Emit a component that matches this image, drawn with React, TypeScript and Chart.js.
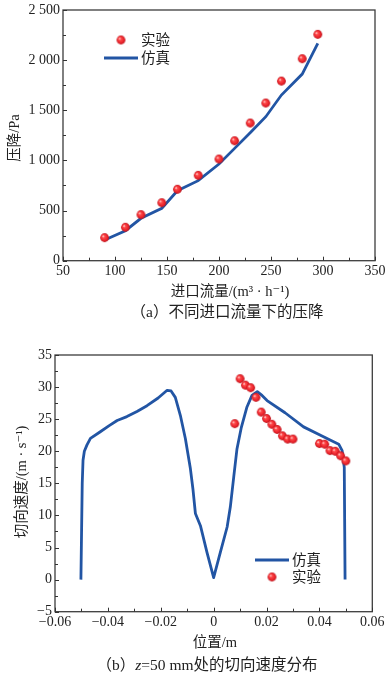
import React, { useEffect, useRef } from 'react';
import { Chart, registerables } from 'chart.js';

Chart.register(...registerables);

const FONT = "'Liberation Serif', 'Times New Roman', Tinos, 'DejaVu Serif', 'Noto Sans CJK SC', serif";
const BLUE = '#2255a4';
const TEXT = '#222222';

// ---- Chart (a): pressure drop vs inlet flow ----
const flowRates = [90, 110, 125, 145, 160, 180, 200, 215, 230, 245, 260, 280, 295];
const pressureExp = [230, 333, 459, 578, 712, 851, 1014, 1196, 1373, 1572, 1791, 2014, 2257];
const pressureSim = [206, 299, 423, 522, 698, 798, 964, 1120, 1276, 1436, 1652, 1861, 2167];
const pressureXTicks = [50, 100, 150, 200, 250, 300, 350];
const pressureYTicks = [0, 500, 1000, 1500, 2000, 2500];

// ---- Chart (b): tangential velocity at z=50 mm ----
const simPosition = [
  -0.0502, -0.0497, -0.0494, -0.0489, -0.0479, -0.0466, -0.043, -0.0395, -0.0365, -0.0328,
  -0.029, -0.0252, -0.021, -0.0176, -0.0161, -0.0145, -0.0126, -0.0107, -0.0088, -0.0078,
  -0.0069, -0.005, -0.0025, 0, 0.0025, 0.0051, 0.0063, 0.0076, 0.0088, 0.0104,
  0.0126, 0.0145, 0.0165, 0.0183, 0.0202, 0.027, 0.034, 0.0404, 0.0473, 0.0486,
  0.0494, 0.0497,
];
const simVelocity = [
  0, 15, 18.6, 20.0, 21.0, 22.0, 23.0, 24.0, 24.8, 25.4,
  26.2, 27.1, 28.3, 29.5, 29.4, 28.4, 25.6, 22.0, 17.3, 14.0,
  10.3, 8.4, 4.2, 0.3, 4.2, 8.2, 11.3, 16.0, 20.3, 23.6,
  26.9, 28.7, 29.3, 28.7, 27.9, 26.0, 23.8, 22.5, 21.1, 20.1,
  17.5, 0,
];
const expPosition = [0.008, 0.010, 0.012, 0.014, 0.016, 0.018, 0.020, 0.022, 0.024, 0.026, 0.028, 0.030, 0.040, 0.042, 0.044, 0.046, 0.048, 0.050];
const expVelocity = [24.3, 31.3, 30.3, 29.9, 28.4, 26.1, 25.1, 24.2, 23.4, 22.4, 21.9, 21.9, 21.2, 21.1, 20.1, 20.0, 19.3, 18.5];
const velXTicks = [-0.06, -0.04, -0.02, 0, 0.02, 0.04, 0.06];
const velYTicks = [-5, 0, 5, 10, 15, 20, 25, 30, 35];

const LABEL_EXP = '实验';
const LABEL_SIM = '仿真';

function makeSphere(r: number): HTMLCanvasElement {
  const s = Math.ceil(r * 2) + 2;
  const c = document.createElement('canvas');
  c.width = s;
  c.height = s;
  const g = c.getContext('2d')!;
  const cx = s / 2, cy = s / 2;
  const grad = g.createRadialGradient(cx - r * 0.35, cy - r * 0.35, r * 0.05, cx, cy, r);
  grad.addColorStop(0, '#ffe0e0');
  grad.addColorStop(0.28, '#ff4a4a');
  grad.addColorStop(0.75, '#e8222a');
  grad.addColorStop(1, '#b8121a');
  g.fillStyle = grad;
  g.beginPath();
  g.arc(cx, cy, r, 0, Math.PI * 2);
  g.fill();
  return c;
}

function minorsOf(t: number[]): number[] {
  const out: number[] = [];
  for (let i = 0; i < t.length - 1; i++) out.push((t[i] + t[i + 1]) / 2);
  return out;
}

type LegendItem = { kind: 'line' | 'dot'; x: number; y: number; text: string };
type Decor = {
  xTicks: number[];
  yTicks: number[];
  xTitle: string; xTitlePos: [number, number];
  yTitle: string; yTitlePos: [number, number];
  legend: LegendItem[];
  sphere: HTMLCanvasElement;
};

function makeDecorPlugin(d: Decor) {
  return {
    id: 'decor',
    beforeDatasetsDraw(chart: any) {
      const { ctx, chartArea: a, scales } = chart;
      const xs = scales.x, ys = scales.y;
      ctx.save();
      ctx.strokeStyle = '#3c3c3c';
      ctx.lineWidth = 1.3;
      ctx.strokeRect(a.left, a.top, a.right - a.left, a.bottom - a.top);
      ctx.lineWidth = 1;
      ctx.strokeStyle = '#333';
      ctx.beginPath();
      for (const v of d.xTicks) {
        const p = Math.round(xs.getPixelForValue(v)) + 0.5;
        ctx.moveTo(p, a.bottom); ctx.lineTo(p, a.bottom - 4);
      }
      for (const v of minorsOf(d.xTicks)) {
        const p = Math.round(xs.getPixelForValue(v)) + 0.5;
        ctx.moveTo(p, a.bottom); ctx.lineTo(p, a.bottom - 3);
      }
      for (const v of d.yTicks) {
        const p = Math.round(ys.getPixelForValue(v)) + 0.5;
        ctx.moveTo(a.left, p); ctx.lineTo(a.left + 4, p);
      }
      for (const v of minorsOf(d.yTicks)) {
        const p = Math.round(ys.getPixelForValue(v)) + 0.5;
        ctx.moveTo(a.left, p); ctx.lineTo(a.left + 3, p);
      }
      ctx.stroke();
      ctx.restore();
    },
    afterDraw(chart: any) {
      const { ctx } = chart;
      ctx.save();
      ctx.fillStyle = TEXT;
      ctx.font = `14.5px ${FONT}`;
      ctx.textAlign = 'center';
      ctx.textBaseline = 'middle';
      ctx.fillText(d.xTitle, d.xTitlePos[0], d.xTitlePos[1]);
      ctx.save();
      ctx.translate(d.yTitlePos[0], d.yTitlePos[1]);
      ctx.rotate(-Math.PI / 2);
      ctx.fillText(d.yTitle, 0, 0);
      ctx.restore();
      // legend
      ctx.textAlign = 'left';
      for (const it of d.legend) {
        if (it.kind === 'line') {
          ctx.strokeStyle = BLUE;
          ctx.lineWidth = 3;
          ctx.beginPath();
          ctx.moveTo(it.x, it.y);
          ctx.lineTo(it.x + 34, it.y);
          ctx.stroke();
        } else {
          const s = d.sphere;
          ctx.drawImage(s, it.x + 17 - s.width / 2, it.y - s.height / 2);
        }
        ctx.fillStyle = TEXT;
        ctx.fillText(it.text, it.x + 37, it.y + 1);
      }
      ctx.restore();
    },
  };
}

function fmtThousands(v: number): string {
  if (v >= 1000) return `${Math.floor(v / 1000)} ${String(v % 1000).padStart(3, '0')}`;
  return String(v);
}
function fmtSigned(v: number, digits: number): string {
  if (Math.abs(v) < 1e-9) return '0';
  const s = Math.abs(v).toFixed(digits);
  return v < 0 ? '\u2212' + s : s;
}

function buildScale(opts: {
  min: number; max: number; ticks: number[]; fmt: (v: number) => string;
  size: number; horizontal: boolean;
}) {
  return {
    type: 'linear',
    min: opts.min,
    max: opts.max,
    grid: { display: false, drawTicks: false },
    border: { display: false },
    afterBuildTicks: (scale: any) => {
      scale.ticks = opts.ticks.map((v) => ({ value: v }));
    },
    afterFit: (scale: any) => {
      if (opts.horizontal) scale.height = opts.size;
      else scale.width = opts.size;
      scale.paddingLeft = 0;
      scale.paddingRight = 0;
      scale.paddingTop = 0;
      scale.paddingBottom = 0;
    },
    ticks: {
      autoSkip: false,
      maxRotation: 0,
      minRotation: 0,
      padding: opts.horizontal ? 2 : 3,
      color: TEXT,
      font: { family: FONT, size: 14 },
      callback: (v: any) => opts.fmt(Number(v)),
    },
  };
}

function PressureChart() {
  const ref = useRef<HTMLCanvasElement>(null);
  useEffect(() => {
    const sphere = makeSphere(4.4);
    const chart = new Chart(ref.current!, {
      type: 'scatter',
      data: {
        datasets: [
          {
            label: LABEL_SIM,
            data: flowRates.map((x, i) => ({ x, y: pressureSim[i] })),
            showLine: true,
            borderColor: BLUE,
            borderWidth: 2.8,
            pointRadius: 0,
            tension: 0,
            order: 2,
          },
          {
            label: LABEL_EXP,
            data: flowRates.map((x, i) => ({ x, y: pressureExp[i] })),
            pointStyle: sphere as any,
            pointRadius: 4.4,
            order: 1,
          },
        ],
      } as any,
      options: {
        responsive: false,
        animation: false,
        layout: { padding: { left: 0, right: 10, top: 10, bottom: 0 } },
        plugins: { legend: { display: false }, tooltip: { enabled: false } },
        scales: {
          x: buildScale({ min: 50, max: 350, ticks: pressureXTicks, fmt: (v) => String(v), size: 305 - 260.7, horizontal: true }),
          y: buildScale({ min: 0, max: 2500, ticks: pressureYTicks, fmt: fmtThousands, size: 63, horizontal: false }),
        } as any,
      },
      plugins: [
        makeDecorPlugin({
          xTicks: pressureXTicks,
          yTicks: pressureYTicks,
          xTitle: '进口流量/(m³ · h⁻¹)',
          xTitlePos: [230, 292],
          yTitle: '压降/Pa',
          yTitlePos: [15, 138],
          legend: [
            { kind: 'dot', x: 104, y: 40, text: LABEL_EXP },
            { kind: 'line', x: 104, y: 58, text: LABEL_SIM },
          ],
          sphere,
        }),
      ],
    });
    return () => chart.destroy();
  }, []);
  return (
    <canvas
      ref={ref}
      width={385}
      height={305}
      style={{ position: 'absolute', left: 0, top: 0, width: 385, height: 305 }}
    />
  );
}

function VelocityChart() {
  const ref = useRef<HTMLCanvasElement>(null);
  useEffect(() => {
    const sphere = makeSphere(4.4);
    const chart = new Chart(ref.current!, {
      type: 'scatter',
      data: {
        datasets: [
          {
            label: LABEL_SIM,
            data: simPosition.map((x, i) => ({ x, y: simVelocity[i] })),
            showLine: true,
            borderColor: BLUE,
            borderWidth: 2.8,
            pointRadius: 0,
            tension: 0,
            borderJoinStyle: 'round',
            order: 2,
          },
          {
            label: LABEL_EXP,
            data: expPosition.map((x, i) => ({ x, y: expVelocity[i] })),
            pointStyle: sphere as any,
            pointRadius: 4.4,
            order: 1,
          },
        ],
      } as any,
      options: {
        responsive: false,
        animation: false,
        layout: { padding: { left: 0, right: 12.7, top: 25, bottom: 0 } },
        plugins: { legend: { display: false }, tooltip: { enabled: false } },
        scales: {
          x: buildScale({ min: -0.06, max: 0.06, ticks: velXTicks, fmt: (v) => fmtSigned(v, 2), size: 325 - 281.7, horizontal: true }),
          y: buildScale({ min: -5, max: 35, ticks: velYTicks, fmt: (v) => fmtSigned(v, 0), size: 55, horizontal: false }),
        } as any,
      },
      plugins: [
        makeDecorPlugin({
          xTicks: velXTicks,
          yTicks: velYTicks,
          xTitle: '位置/m',
          xTitlePos: [215, 313],
          yTitle: '切向速度/(m · s⁻¹)',
          yTitlePos: [22, 152],
          legend: [
            { kind: 'line', x: 255, y: 230, text: LABEL_SIM },
            { kind: 'dot', x: 255, y: 247, text: LABEL_EXP },
          ],
          sphere,
        }),
      ],
    });
    return () => chart.destroy();
  }, []);
  return (
    <canvas
      ref={ref}
      width={385}
      height={325}
      style={{ position: 'absolute', left: 0, top: 330, width: 385, height: 325 }}
    />
  );
}

const captionStyle: React.CSSProperties = {
  position: 'absolute',
  width: 320,
  textAlign: 'center',
  fontFamily: FONT,
  fontSize: 15.5,
  lineHeight: '20px',
  color: TEXT,
  whiteSpace: 'nowrap',
};

export default function App() {
  return (
    <div style={{ position: 'absolute', left: 0, top: 0, width: 385, height: 678, background: '#fff', overflow: 'hidden' }}>
      <PressureChart />
      <div style={{ ...captionStyle, left: 227 - 160, top: 302 }}>（a）不同进口流量下的压降</div>
      <VelocityChart />
      <div style={{ ...captionStyle, left: 207 - 160, top: 655 }}>
        （b）<i>z</i>=50 mm处的切向速度分布
      </div>
    </div>
  );
}
